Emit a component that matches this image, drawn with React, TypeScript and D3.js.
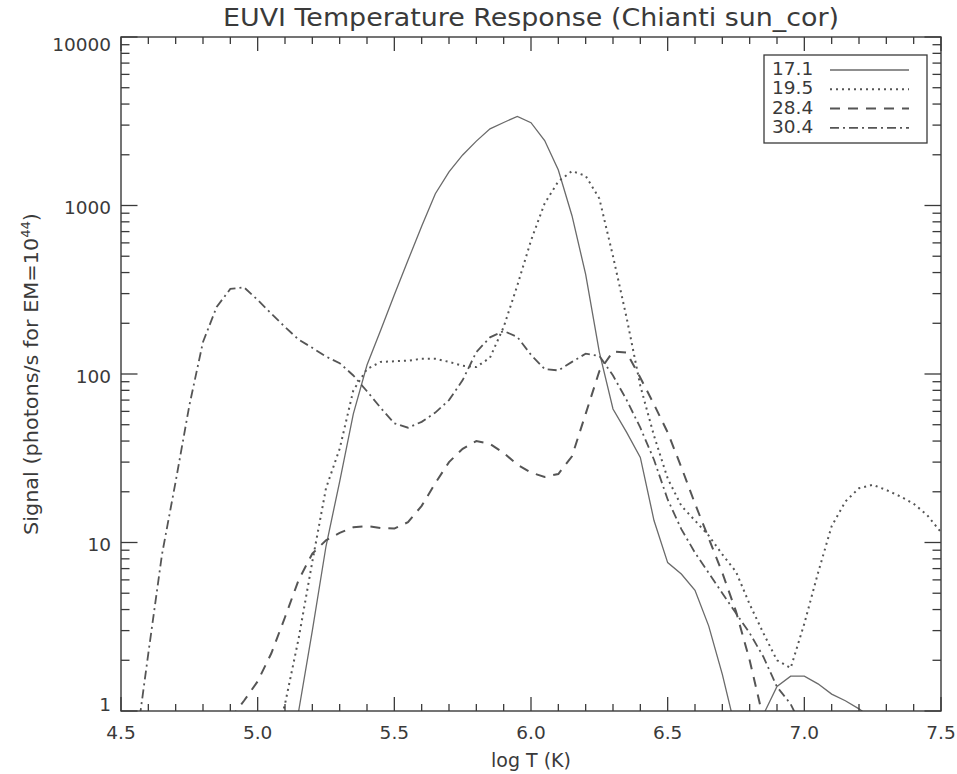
import React from "react";
import * as d3 from "d3";

// ---- data (log T grid, signal in photons/s for EM=1e44) ----
const logT171 = [5.10,5.15,5.20,5.25,5.30,5.35,5.40,5.45,5.50,5.55,5.60,5.65,5.70,5.75,5.80,5.85,5.90,5.95,6.00,6.05,6.10,6.15,6.20,6.25,6.30,6.35,6.40,6.45,6.50,6.55,6.60,6.65,6.70,6.75,6.80,6.85,6.90,6.95,7.00,7.05,7.10,7.15,7.20,7.25];
const sig171 = [0.32,1.0,3.0,9.5,23,58,113,182,295,473,754,1175,1585,1995,2410,2850,3110,3380,3100,2430,1625,870,390,135,62,45,32,13.5,7.6,6.5,5.2,3.2,1.65,0.76,0.56,0.95,1.4,1.61,1.61,1.45,1.26,1.15,1.03,0.9];

const logT195 = [5.05,5.10,5.15,5.20,5.25,5.30,5.35,5.40,5.45,5.50,5.55,5.60,5.65,5.70,5.75,5.80,5.85,5.90,5.95,6.00,6.05,6.10,6.15,6.20,6.25,6.30,6.35,6.40,6.45,6.50,6.55,6.60,6.65,6.70,6.75,6.80,6.85,6.90,6.95,7.00,7.05,7.10,7.15,7.20,7.25,7.30,7.35,7.40,7.45,7.50];
const sig195 = [0.55,1.1,2.7,7.7,21,36,80,107,118,119,120,123,123,118,112,110,125,190,335,620,1030,1390,1600,1500,1100,500,215,85,43,24,16.5,13.5,11,8.5,6.7,4.3,2.9,2.0,1.8,3.3,6.6,12.5,17.5,21,22,20.5,18.8,17,14.5,11.5];

const logT284 = [4.90,4.95,5.00,5.05,5.10,5.15,5.20,5.25,5.30,5.35,5.40,5.45,5.50,5.55,5.60,5.65,5.70,5.75,5.80,5.85,5.90,5.95,6.00,6.05,6.10,6.15,6.20,6.25,6.30,6.35,6.40,6.45,6.50,6.55,6.60,6.65,6.70,6.75,6.80,6.85];
const sig284 = [0.9,1.15,1.5,2.2,3.6,6.0,8.6,10.3,11.4,12.3,12.5,12.2,12.1,13.2,16.5,22.5,30,36,40,38.5,34,29,26,24.5,25.5,32.5,58,104,136,134,95,66,45,28,17,10.6,6.6,3.9,2.0,0.9];

const logT304 = [4.55,4.60,4.65,4.70,4.75,4.80,4.85,4.90,4.95,5.00,5.05,5.10,5.15,5.20,5.25,5.30,5.35,5.40,5.45,5.50,5.55,5.60,5.65,5.70,5.75,5.80,5.85,5.90,5.95,6.00,6.05,6.10,6.15,6.20,6.25,6.30,6.35,6.40,6.45,6.50,6.55,6.60,6.65,6.70,6.75,6.80,6.85,6.90,6.95,7.00];
const sig304 = [0.55,2.2,8.5,23,65,155,250,320,327,275,228,190,160,143,127,116,98,79,63,51,48,52,59,70,92,135,165,180,166,130,107,105,118,132,128,98,70,48,31,18,12,8.7,6.6,5.0,3.8,2.9,2.1,1.39,1.1,0.75];

const seriesNames = ["17.1", "19.5", "28.4", "30.4"];
const xTickValues = [4.5, 5.0, 5.5, 6.0, 6.5, 7.0, 7.5];
const xTickLabels = ["4.5", "5.0", "5.5", "6.0", "6.5", "7.0", "7.5"];
const yTickValues = [1, 10, 100, 1000, 10000];
const yTickLabels = ["1", "10", "100", "1000", "10000"];

const W = 957, H = 774;
const L = 121, R = 941, T = 37, B = 711;
const FONT = "'DejaVu Sans', sans-serif";
const INK = "#3a3a3a";
const LINE = "#555555";

export default function App() {
  const x = d3.scaleLinear().domain([4.5, 7.5]).range([L, R]);
  const y = d3.scaleLog().domain([1, 10000]).range([B, T]);

  const line = d3.line<[number, number]>().x((d) => x(d[0])).y((d) => y(d[1]));
  const zip = (a: number[], b: number[]) => a.map((v, i) => [v, b[i]] as [number, number]);

  const series = [
    { name: seriesNames[0], d: line(zip(logT171, sig171)), dash: "none", w: 1.3, c: "#6a6a6a" },
    { name: seriesNames[1], d: line(zip(logT195, sig195)), dash: "2,4", w: 2, c: LINE },
    { name: seriesNames[2], d: line(zip(logT284, sig284)), dash: "10,8", w: 2, c: LINE },
    { name: seriesNames[3], d: line(zip(logT304, sig304)), dash: "9,4,2,4", w: 1.8, c: LINE },
  ];

  const xMinor = d3.range(45, 76, 1).map((v) => v / 10).filter((v) => !xTickValues.some((m) => Math.abs(m - v) < 1e-6));
  const yMinor: number[] = [];
  for (let e = 0; e < 4; e++) for (let k = 2; k <= 9; k++) yMinor.push(k * Math.pow(10, e));

  const xMaj = 14, xMin = 7, yMaj = 16.5, yMin = 8.5;

  return (
    <svg width={W} height={H} style={{ position: "absolute", left: 0, top: 0, background: "#fff" }} fontFamily={FONT}>
      <rect x={0} y={0} width={W} height={H} fill="#fff" />
      <defs>
        <clipPath id="plotclip">
          <rect x={L} y={T} width={R - L} height={B - T} />
        </clipPath>
      </defs>

      {/* title */}
      <text x={(L + R) / 2} y={26} textAnchor="middle" fontSize={24} fill={INK} textLength={616} lengthAdjust="spacingAndGlyphs">
        EUVI Temperature Response (Chianti sun_cor)
      </text>

      {/* curves */}
      <g clipPath="url(#plotclip)" fill="none">
        {series.map((s) => (
          <path key={s.name} d={s.d || ""} stroke={s.c} strokeWidth={s.w} strokeDasharray={s.dash} />
        ))}
      </g>

      {/* frame */}
      <rect x={L} y={T} width={R - L} height={B - T} fill="none" stroke={INK} strokeWidth={1.4} />

      {/* ticks */}
      <g stroke={INK} strokeWidth={1.3}>
        {xTickValues.map((v) => (
          <g key={"xm" + v}>
            <line x1={x(v)} x2={x(v)} y1={B} y2={B - xMaj} />
            <line x1={x(v)} x2={x(v)} y1={T} y2={T + xMaj} />
          </g>
        ))}
        {xMinor.map((v) => (
          <g key={"xn" + v}>
            <line x1={x(v)} x2={x(v)} y1={B} y2={B - xMin} />
            <line x1={x(v)} x2={x(v)} y1={T} y2={T + xMin} />
          </g>
        ))}
        {yTickValues.map((v) => (
          <g key={"ym" + v}>
            <line x1={L} x2={L + yMaj} y1={y(v)} y2={y(v)} />
            <line x1={R} x2={R - yMaj} y1={y(v)} y2={y(v)} />
          </g>
        ))}
        {yMinor.map((v) => (
          <g key={"yn" + v}>
            <line x1={L} x2={L + yMin} y1={y(v)} y2={y(v)} />
            <line x1={R} x2={R - yMin} y1={y(v)} y2={y(v)} />
          </g>
        ))}
      </g>

      {/* tick labels */}
      <g fontSize={18.5} fill={INK}>
        {xTickValues.map((v, i) => (
          <text key={"xl" + v} x={x(v)} y={739} textAnchor="middle">{xTickLabels[i]}</text>
        ))}
        {yTickValues.map((v, i) => {
          const off = i === 0 ? -7 : i === yTickValues.length - 1 ? 7 : 2;
          return (
            <text key={"yl" + v} x={111} y={y(v) + off + 6.5} textAnchor="end">{yTickLabels[i]}</text>
          );
        })}
      </g>

      {/* axis titles */}
      <text x={(L + R) / 2} y={767} textAnchor="middle" fontSize={19} fill={INK}>log T (K)</text>
      <text transform={`translate(38, ${(T + B) / 2}) rotate(-90)`} textAnchor="middle" fontSize={19} fill={INK} textLength={322} lengthAdjust="spacingAndGlyphs">
        Signal (photons/s for EM=10<tspan fontSize={12} dy={-8}>44</tspan><tspan dy={8}>)</tspan>
      </text>

      {/* legend */}
      <g>
        <rect x={764} y={55} width={163} height={88} fill="#fff" stroke={INK} strokeWidth={1.3} />
        {series.map((s, i) => {
          const yy = 75 + i * 19.3;
          return (
            <g key={"lg" + s.name}>
              <text x={772} y={yy} fontSize={18.5} fill={INK}>{s.name}</text>
              <line x1={830} x2={909} y1={yy - 5} y2={yy - 5} stroke={s.c} strokeWidth={s.w} strokeDasharray={s.dash} />
            </g>
          );
        })}
      </g>
    </svg>
  );
}
